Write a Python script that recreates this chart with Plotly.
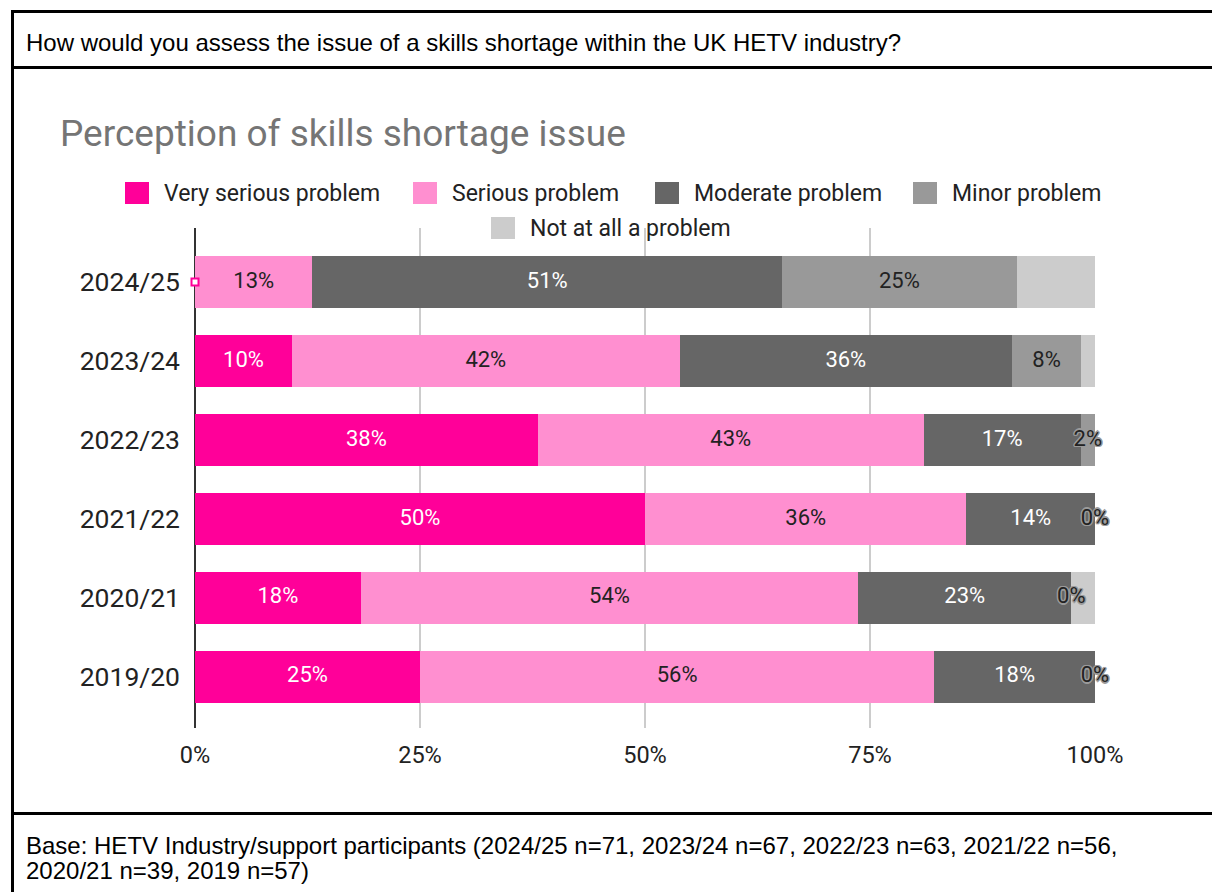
import plotly.graph_objects as go
import numpy as np

W, H = 1212, 892

# ---------------- data ----------------
years = ["2019/20", "2020/21", "2021/22", "2022/23", "2023/24", "2024/25"]
series_names = ["Very serious problem", "Serious problem", "Moderate problem",
                "Minor problem", "Not at all a problem"]
very_serious = [24.56, 17.95, 50.00, 38.10, 10.45, 0.00]
serious = [56.14, 53.85, 35.71, 42.86, 41.79, 12.68]
moderate = [17.54, 23.08, 14.29, 17.46, 35.82, 50.70]
minor = [0.00, 0.00, 0.00, 1.59, 7.46, 25.35]
not_at_all = [0.00, 2.56, 0.00, 0.00, 1.49, 8.45]

labels_very = ["25%", "18%", "50%", "38%", "10%", ""]
labels_serious = ["56%", "54%", "36%", "43%", "42%", "13%"]
labels_moderate = ["18%", "23%", "14%", "17%", "36%", "51%"]
labels_minor = ["0%", "0%", "0%", "2%", "8%", "25%"]
labels_not = ["", "", "", "", "", ""]

x_tick_vals = [0, 25, 50, 75, 100]
x_tick_text = ["0%", "25%", "50%", "75%", "100%"]

colors = ["#FF0099", "#FF8FD0", "#666666", "#999999", "#CCCCCC"]
label_colors = ["#FFFFFF", "#222222", "#FFFFFF", "#222222", "#222222"]

title_text = "Perception of skills shortage issue"
header_text = "How would you assess the issue of a skills shortage within the UK HETV industry?"
footer_line1 = ("Base: HETV Industry/support participants (2024/25 n=71, 2023/24 n=67, "
                "2022/23 n=63, 2021/22 n=56,")
footer_line2 = "2020/21 n=39, 2019 n=57)"

all_vals = [very_serious, serious, moderate, minor, not_at_all]
all_labels = [labels_very, labels_serious, labels_moderate, labels_minor, labels_not]


def px_x(p):
    return p / W


def px_y(p):
    return 1 - p / H


fig = go.Figure()
for name, vals, col in zip(series_names, all_vals, colors):
    fig.add_trace(go.Bar(
        y=years, x=vals, name=name, orientation="h",
        marker=dict(color=col, line=dict(width=0)),
        showlegend=False, hoverinfo="skip",
    ))

# label positions (normalised cumulative midpoints)
arr = np.array(all_vals, dtype=float)
tot = arr.sum(axis=0)
norm = arr / tot * 100
cum = np.cumsum(norm, axis=0)
starts = cum - norm
mids = starts + norm / 2

FONT = "Roboto, Arial, sans-serif"
plain = {"x": [], "y": [], "t": [], "c": []}
halo = {"x": [], "y": [], "t": []}
for s in range(len(all_vals)):
    for i in range(len(years)):
        lab = all_labels[s][i]
        if not lab:
            continue
        if norm[s, i] < 4:
            halo["x"].append(mids[s, i]); halo["y"].append(years[i]); halo["t"].append(lab)
        else:
            plain["x"].append(mids[s, i]); plain["y"].append(years[i])
            plain["t"].append(lab); plain["c"].append(label_colors[s])

fig.add_trace(go.Scatter(
    x=plain["x"], y=plain["y"], text=plain["t"], mode="text",
    textposition="middle center",
    textfont=dict(family=FONT, size=22, color=plain["c"]),
    showlegend=False, hoverinfo="skip", cliponaxis=False))
HC = "#9a9a9a"
fig.add_trace(go.Scatter(
    x=halo["x"], y=halo["y"], text=halo["t"], mode="text",
    textposition="middle center",
    textfont=dict(family=FONT, size=22, color="#222222",
                  shadow=(f"1.5px 0px 0.5px {HC}, -1.5px 0px 0.5px {HC}, "
                          f"0px 1.5px 0.5px {HC}, 0px -1.5px 0.5px {HC}, "
                          f"1px 1px 0.5px {HC}, -1px -1px 0.5px {HC}, "
                          f"1px -1px 0.5px {HC}, -1px 1px 0.5px {HC}")),
    showlegend=False, hoverinfo="skip", cliponaxis=False))

# zero-value marker for the first series
zx = [starts[0, i] for i in range(len(years)) if very_serious[i] == 0]
zy = [years[i] for i in range(len(years)) if very_serious[i] == 0]
fig.add_trace(go.Scatter(
    x=zx, y=zy, mode="markers",
    marker=dict(symbol="square", size=7, color="white",
                line=dict(color=colors[0], width=2)),
    showlegend=False, hoverinfo="skip", cliponaxis=False))

shapes = []
# frame lines
shapes.append(dict(type="line", xref="paper", yref="paper",
                   x0=px_x(12.5), x1=px_x(12.5), y0=px_y(10), y1=px_y(892),
                   line=dict(color="black", width=3)))
for yy in [11.5, 67.5, 813.5]:
    shapes.append(dict(type="line", xref="paper", yref="paper",
                       x0=px_x(11), x1=px_x(1212), y0=px_y(yy), y1=px_y(yy),
                       line=dict(color="black", width=3)))

HDR_FONT = dict(family="Liberation Sans, Arial", size=24, color="black")
annotations = []
annotations.append(dict(text=header_text, x=px_x(24), y=px_y(43), xref="paper", yref="paper",
                        xanchor="left", yanchor="middle", showarrow=False, font=HDR_FONT))
annotations.append(dict(text=footer_line1, x=px_x(24), y=px_y(845), xref="paper", yref="paper",
                        xanchor="left", yanchor="middle", showarrow=False, font=HDR_FONT))
annotations.append(dict(text=footer_line2, x=px_x(24), y=px_y(870), xref="paper", yref="paper",
                        xanchor="left", yanchor="middle", showarrow=False, font=HDR_FONT))
annotations.append(dict(text=title_text, x=px_x(58), y=px_y(133), xref="paper", yref="paper",
                        xanchor="left", yanchor="middle", showarrow=False,
                        font=dict(family=FONT, size=37, color="#757575")))

# legend (manual)
legend_pos = [(125, 193), (413, 193), (655, 193), (913, 193), (491, 228)]
for (lx, ly), name, col in zip(legend_pos, series_names, colors):
    shapes.append(dict(type="rect", xref="paper", yref="paper",
                       x0=px_x(lx), x1=px_x(lx + 24), y0=px_y(ly - 11), y1=px_y(ly + 11),
                       fillcolor=col, line=dict(width=0)))
    annotations.append(dict(text=name, x=px_x(lx + 37), y=px_y(ly), xref="paper", yref="paper",
                            xanchor="left", yanchor="middle", showarrow=False,
                            font=dict(family=FONT, size=23, color="#222222")))

fig.update_layout(
    width=W, height=H, autosize=False,
    margin=dict(l=0, r=0, t=0, b=0, pad=0, autoexpand=False),
    paper_bgcolor="white", plot_bgcolor="white",
    barmode="stack", barnorm="percent", bargap=0.34,
    shapes=shapes, annotations=annotations,
    xaxis=dict(domain=[px_x(195), px_x(1095)], range=[0, 100], automargin=False,
               tickvals=x_tick_vals, ticktext=x_tick_text,
               showgrid=True, gridcolor="#CCCCCC", gridwidth=1.5,
               zeroline=True, zerolinecolor="#333333", zerolinewidth=2,
               showline=False, ticks="", ticklabelstandoff=10,
               tickfont=dict(family=FONT, size=23.5, color="#222222")),
    yaxis=dict(domain=[px_y(728), px_y(228)], type="category", automargin=False,
               categoryorder="array", categoryarray=years,
               range=[-0.646, 5.684], showgrid=False, zeroline=False,
               showline=False, ticks="", ticklabelstandoff=14,
               tickfont=dict(family=FONT, size=26.5, color="#222222")),
)

fig.write_html("out.html")
